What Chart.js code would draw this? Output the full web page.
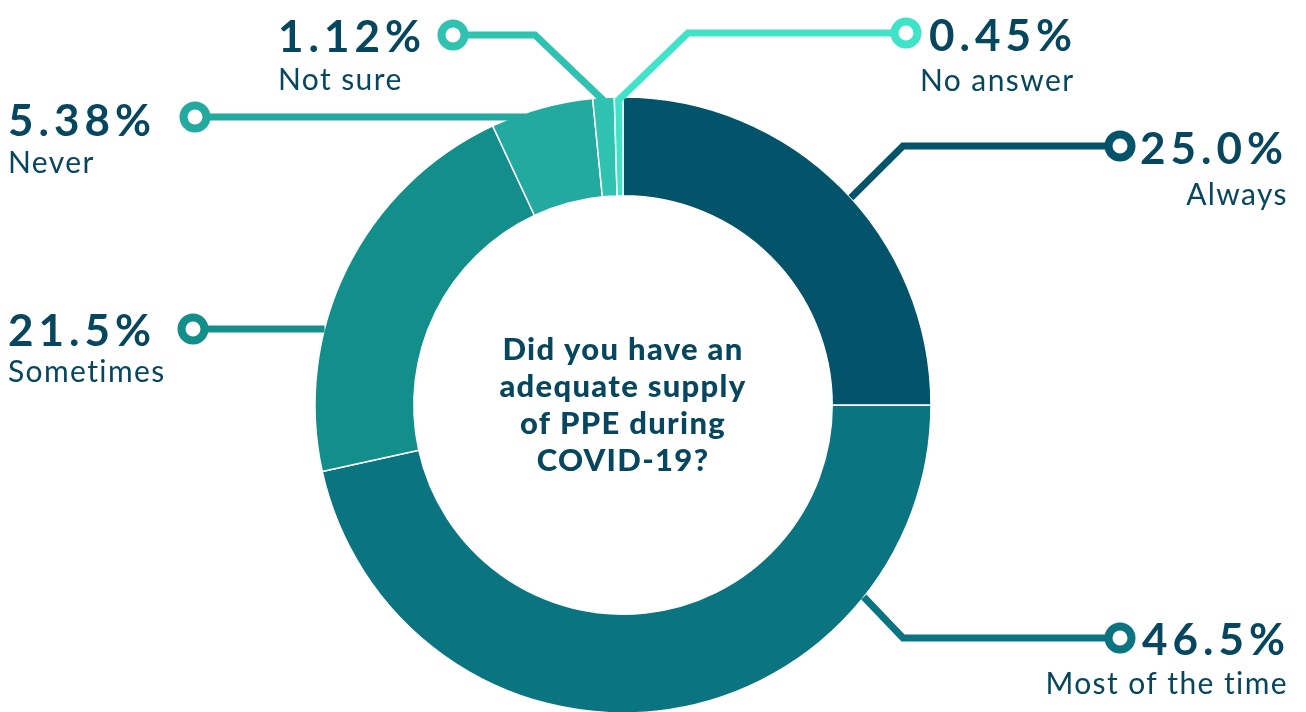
<!DOCTYPE html>
<html lang="en">
<head>
    <meta charset="UTF-8">
    <title>Adequate supply of PPE during COVID-19</title>
    <script src="https://cdn.jsdelivr.net/npm/chart.js"></script>
    <style>
        body {
            margin: 0;
            background-color: #fff;
        }
        .wrap {
            position: relative;
            width: 1306px;
            height: 712px;
        }
    </style>
</head>
<body>
    <div class="wrap">
        <canvas id="ppeChart"></canvas>
    </div>

    <script>
        // data
        const categories = ['Always', 'Most of the time', 'Sometimes', 'Never', 'Not sure', 'No answer'];
        const shares = [25.0, 46.5, 21.5, 5.38, 1.12, 0.45];
        const shareLabels = ['25.0%', '46.5%', '21.5%', '5.38%', '1.12%', '0.45%'];
        const sliceColors = ['#03536a', '#0a7480', '#128e8b', '#22aaa0', '#2fc2b0', '#3ee3c8'];
        const centerLines = ['Did you have an', 'adequate supply', 'of PPE during', 'COVID-19?'];

        const textColor = '#06475f';

        // where each callout goes (layout only)
        // frac = where along the slice the leader starts, flat = horizontal leader
        const callouts = [
            { frac: 0.53, elbow: [903, 146], marker: [1120, 146], pct: [1140, 164, 'left'], name: [1288, 205, 'right'] },
            { frac: 0.23, elbow: [903, 638], marker: [1120, 638], pct: [1142, 655, 'left'], name: [1288, 694, 'right'] },
            { flat: true, inset: 0, marker: [193, 329], pct: [8, 346, 'left'], name: [8, 382, 'left'] },
            { flat: true, inset: 4, marker: [195, 117], pct: [8, 136, 'left'], name: [8, 173, 'left'] },
            { frac: 0.5, inset: 3, elbow: [535, 35], marker: [453, 35], pct: [278, 52, 'left'], name: [278, 90, 'left'] },
            { frac: 0.5, inset: 3, elbow: [688, 33], marker: [906, 33], pct: [929, 51, 'left'], name: [920, 91, 'left'] }
        ];

        const calloutPlugin = {
            id: 'callouts',
            afterDatasetsDraw(chart) {
                const ctx = chart.ctx;
                const arcs = chart.getDatasetMeta(0).data;
                ctx.save();
                arcs.forEach((arc, i) => {
                    const c = callouts[i];
                    const p = arc.getProps(['x', 'y', 'startAngle', 'endAngle', 'outerRadius']);
                    const r = p.outerRadius - (c.inset || 0);
                    let start;
                    if (c.flat) {
                        const dy = c.marker[1] - p.y;
                        start = [p.x - Math.sqrt(r * r - dy * dy), c.marker[1]];
                    } else {
                        const a = p.startAngle + (p.endAngle - p.startAngle) * c.frac;
                        start = [p.x + Math.cos(a) * r, p.y + Math.sin(a) * r];
                    }

                    ctx.strokeStyle = sliceColors[i];
                    ctx.lineWidth = 7;
                    ctx.lineJoin = 'miter';
                    ctx.beginPath();
                    ctx.moveTo(start[0], start[1]);
                    if (c.elbow) ctx.lineTo(c.elbow[0], c.elbow[1]);
                    ctx.lineTo(c.marker[0], c.marker[1]);
                    ctx.stroke();

                    // open ring marker
                    ctx.beginPath();
                    ctx.arc(c.marker[0], c.marker[1], 11.5, 0, Math.PI * 2);
                    ctx.fillStyle = '#fff';
                    ctx.fill();
                    ctx.lineWidth = 8;
                    ctx.stroke();

                    ctx.fillStyle = textColor;
                    ctx.textBaseline = 'alphabetic';
                    ctx.font = 'bold 44px Lato';
                    ctx.letterSpacing = '5px';
                    ctx.textAlign = c.pct[2];
                    ctx.fillText(shareLabels[i], c.pct[0], c.pct[1]);
                    ctx.font = '30px Lato';
                    ctx.letterSpacing = '1.4px';
                    ctx.textAlign = c.name[2];
                    ctx.fillText(categories[i], c.name[0], c.name[1]);
                });

                // question in the hole
                const first = arcs[0];
                ctx.fillStyle = textColor;
                ctx.font = '900 31px Lato';
                ctx.letterSpacing = '1.3px';
                ctx.textAlign = 'center';
                centerLines.forEach((line, k) => {
                    ctx.fillText(line, first.x, 360 + k * 37);
                });
                ctx.restore();
            }
        };

        const ctx = document.getElementById('ppeChart').getContext('2d');
        const ppeChart = new Chart(ctx, {
            type: 'doughnut',
            data: {
                labels: categories,
                datasets: [{
                    data: shares,
                    backgroundColor: sliceColors,
                    borderColor: '#fff',
                    borderWidth: 1.5
                }]
            },
            options: {
                responsive: true,
                maintainAspectRatio: false,
                animation: false,
                radius: 308,
                cutout: 208,
                layout: {
                    padding: { top: 98, bottom: 0, left: 0, right: 60 }
                },
                plugins: {
                    legend: { display: false },
                    tooltip: { enabled: false }
                }
            },
            plugins: [calloutPlugin]
        });
    </script>
</body>
</html>
